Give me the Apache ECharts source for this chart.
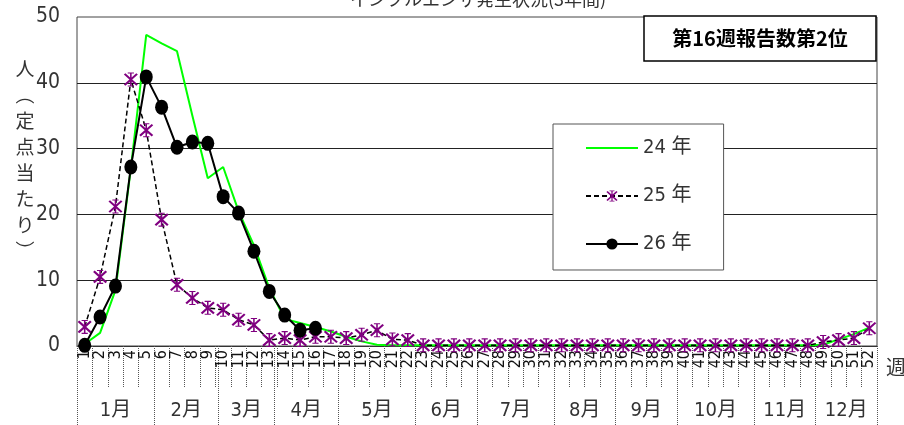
<!DOCTYPE html>
<html>
<head>
<meta charset="utf-8">
<script src="https://cdn.jsdelivr.net/npm/echarts@6/dist/echarts.min.js"></script>
<style>
  html, body { margin: 0; padding: 0; background: #fff; }
  #chart { width: 904px; height: 425px; }
</style>
</head>
<body>
<div id="chart"></div>
<script>
// 週（1〜52）
const weeks = ['1','2','3','4','5','6','7','8','9','10','11','12','13','14','15','16','17','18','19','20',
  '21','22','23','24','25','26','27','28','29','30','31','32','33','34','35','36','37','38','39','40',
  '41','42','43','44','45','46','47','48','49','50','51','52'];

// 定点当たり報告数
const y24 = [0.3, 2.0, 8.5, 27.0, 47.3, 46.0, 44.8, 35.0, 25.5, 27.2,
  20.5, 15.3, 8.8, 4.1, 3.5, 2.9, 2.2, 1.4, 0.7, 0.2,
  0.1, 0.1, 0.1, 0.1, 0.1, 0.1, 0.1, 0.1, 0.1, 0.1,
  0.1, 0.1, 0.1, 0.1, 0.1, 0.1, 0.1, 0.1, 0.1, 0.1,
  0.1, 0.1, 0.1, 0.1, 0.1, 0.1, 0.1, 0.1, 0.2, 1.0,
  1.8, 2.8];
const y25 = [2.9, 10.5, 21.2, 40.5, 32.8, 19.2, 9.3, 7.3, 5.8, 5.5,
  4.0, 3.2, 0.9, 1.2, 0.9, 1.4, 1.4, 1.2, 1.7, 2.4,
  1.0, 0.9, 0.1, 0.1, 0.1, 0.1, 0.1, 0.1, 0.1, 0.1,
  0.1, 0.1, 0.1, 0.1, 0.1, 0.1, 0.1, 0.1, 0.1, 0.1,
  0.1, 0.1, 0.1, 0.1, 0.1, 0.1, 0.1, 0.1, 0.6, 0.9,
  1.2, 2.7];
const y26 = [0.1, 4.4, 9.1, 27.2, 40.9, 36.3, 30.2, 31.0, 30.8, 22.7,
  20.2, 14.4, 8.3, 4.7, 2.4, 2.7];

const seriesNames = ['24 年', '25 年', '26 年'];

// 月の区切り（週の境界）と月名
const months = ['1月','2月','3月','4月','5月','6月','7月','8月','9月','10月','11月','12月'];
const monthEdges = [0, 5, 9.2, 12.8, 17, 22, 26, 31, 35, 39, 44, 48, 52];
const monthCenters = months.map((m, i) => (monthEdges[i] + monthEdges[i + 1]) / 2);

const NARROW = "'Liberation Sans Narrow', 'DejaVu Sans Condensed', 'Noto Sans CJK JP', sans-serif";

// アスタリスク形のマーカー
const starPath = 'path://M9 0L11 0L11 20L9 20Z' +
  'M1 3L3 1L19 17L17 19Z' +
  'M17 1L19 3L3 19L1 17Z' +
  'M6 0L14 0L14 1.5L6 1.5Z' +
  'M6 18.5L14 18.5L14 20L6 20Z';

const chart = echarts.init(document.getElementById('chart'), null, { renderer: 'canvas' });

chart.setOption({
  animation: false,
  backgroundColor: '#fff',
  grid: {
    left: 77, right: 27, top: 17, bottom: 79,
    show: true, borderColor: '#444', borderWidth: 1, backgroundColor: '#fff'
  },
  legend: {
    data: [
      { name: seriesNames[0], itemStyle: { opacity: 0 } },
      { name: seriesNames[1] },
      { name: seriesNames[2] }
    ],
    orient: 'vertical',
    left: 553, top: 124,
    padding: [14, 32, 16, 32],
    itemGap: 28,
    itemWidth: 52,
    itemHeight: 14,
    backgroundColor: '#fff',
    borderColor: '#555',
    borderWidth: 1,
    textStyle: { fontSize: 20, color: '#333', fontFamily: NARROW }
  },
  xAxis: [
    {
      type: 'category',
      data: weeks,
      boundaryGap: true,
      axisLine: { show: true, lineStyle: { color: '#333', width: 1 } },
      axisTick: { show: true, interval: 0, length: 41, lineStyle: { color: '#555', type: 'dotted' } },
      axisLabel: {
        interval: 0, rotate: 90, margin: 4,
        fontSize: 16, color: '#111', fontFamily: NARROW
      },
      splitLine: { show: false }
    },
    {
      type: 'value',
      min: 0, max: 52,
      position: 'bottom',
      axisLine: { show: false },
      axisTick: {
        show: true, customValues: monthEdges, length: 79,
        lineStyle: { color: '#555', type: 'dotted' }
      },
      axisLabel: {
        show: true, customValues: monthCenters, margin: 55,
        fontSize: 20, color: '#333', fontFamily: NARROW,
        formatter: function (v) {
          let best = 0;
          monthCenters.forEach((c, i) => { if (Math.abs(c - v) < Math.abs(monthCenters[best] - v)) best = i; });
          return months[best];
        }
      },
      splitLine: { show: false }
    }
  ],
  yAxis: {
    type: 'value',
    min: 0, max: 50, interval: 10,
    axisLine: { show: false },
    axisTick: { show: false },
    axisLabel: { margin: 17, fontSize: 21, color: '#333', fontFamily: NARROW },
    splitLine: { show: true, showMinLine: false, showMaxLine: false, lineStyle: { color: '#222', width: 1.2 } }
  },
  series: [
    {
      name: seriesNames[0],
      type: 'line',
      data: y24,
      symbol: 'none',
      lineStyle: { color: '#00ff00', width: 2 },
      itemStyle: { color: '#00ff00' },
      z: 2
    },
    {
      name: seriesNames[1],
      type: 'line',
      data: y25,
      symbol: starPath,
      symbolSize: 14,
      lineStyle: { color: '#000', width: 1.5, type: [5, 3] },
      itemStyle: { color: '#800080' },
      z: 3
    },
    {
      name: seriesNames[2],
      type: 'line',
      data: y26,
      symbol: 'circle',
      symbolSize: [13, 15],
      lineStyle: { color: '#000', width: 2 },
      itemStyle: { color: '#000' },
      z: 4
    }
  ],
  graphic: [
    {
      type: 'text', x: 478, y: -1, z: 10,
      style: {
        text: 'インフルエンザ発生状況(3年間)', fill: '#333',
        font: "18px 'Noto Sans CJK JP', sans-serif",
        textAlign: 'center', textVerticalAlign: 'middle'
      }
    },
    {
      type: 'text', x: 25, y: 160, z: 10,
      style: {
        text: '人\n︵\n定\n点\n当\nた\nり\n︶', fill: '#333',
        font: "19px 'Noto Sans CJK JP', sans-serif",
        lineHeight: 26,
        textAlign: 'center', textVerticalAlign: 'middle'
      }
    },
    {
      type: 'text', x: 896, y: 367, z: 10,
      style: {
        text: '週', fill: '#333',
        font: "20px 'Noto Sans CJK JP', sans-serif",
        textAlign: 'center', textVerticalAlign: 'middle'
      }
    },
    {
      type: 'group', z: 20,
      children: [
        {
          type: 'rect',
          shape: { x: 644, y: 16, width: 232, height: 45 },
          style: { fill: '#fff', stroke: '#000', lineWidth: 1.5 }
        },
        {
          type: 'text', x: 760, y: 38.5,
          style: {
            text: '第16週報告数第2位', fill: '#000',
            font: "bold 20px 'Noto Sans CJK JP', sans-serif",
            textAlign: 'center', textVerticalAlign: 'middle'
          }
        }
      ]
    }
  ]
});
</script>
</body>
</html>
